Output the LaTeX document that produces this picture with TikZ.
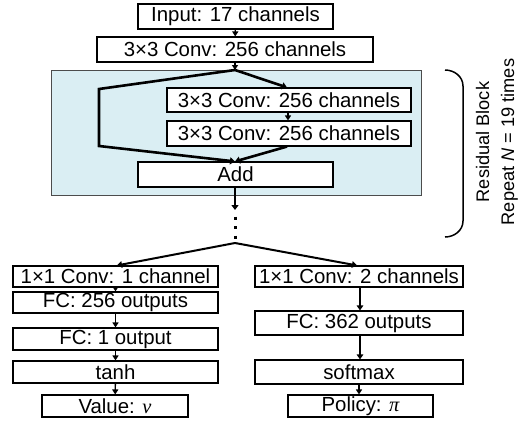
\documentclass[tikz,border=0pt]{standalone}
\usepackage{fontspec}
\setmainfont{Liberation Sans}
\newfontfamily\greekfont{Liberation Serif}
\usetikzlibrary{arrows.meta, positioning}
\definecolor{resblue}{RGB}{218,238,243}
\tikzset{
    layer/.style={draw, line width=1.1pt, fill=white, inner sep=0pt,
        font=\fontsize{20.4}{24}\selectfont},
    resbox/.style={draw=black!70, line width=1pt, fill=resblue, inner sep=0pt},
    flow/.style={-{Triangle[length=5pt,width=6pt]}, line width=1.4pt},
    bigflow/.style={-{Triangle[length=5pt,width=7pt]}, line width=2.6pt},
    sideflow/.style={-{Triangle[length=5pt,width=6.5pt]}, line width=2pt},
    sidenote/.style={rotate=90, align=center,
        font=\fontsize{18.2}{25}\selectfont}}
\begin{document}
\begin{tikzpicture}[x=1pt, y=-1pt]
\useasboundingbox (0,0) rectangle (531,421);

% residual block background
\node[resbox, minimum width=370pt, minimum height=125pt] (block) at (236,132.5) {};

\node[layer, minimum width=195pt, minimum height=25pt] (inp)  at (235.5,16.5) {Input: 17 channels};
\node[layer, minimum width=276pt, minimum height=25pt] (conv) at (235,49.5) {3×3 Conv: 256 channels};
\node[layer, minimum width=244pt, minimum height=24pt] (res1) at (289,100) {3×3 Conv: 256 channels};
\node[layer, minimum width=244pt, minimum height=25pt] (res2) at (289,133.5) {3×3 Conv: 256 channels};
\node[layer, minimum width=195pt, minimum height=25pt] (add)  at (235.5,174.5) {Add};

% value head
\node[layer, minimum width=205pt, minimum height=21pt] (vconv) at (115.5,276.5) {1×1 Conv: 1 channel};
\node[layer, minimum width=205pt, minimum height=21pt] (vfc1)  at (115.5,302.5) {FC: 256 outputs};
\node[layer, minimum width=205pt, minimum height=22pt] (vfc2)  at (115.5,339) {FC: 1 output};
\node[layer, minimum width=205pt, minimum height=22pt] (tanh)  at (115.5,372) {tanh};
\node[layer, minimum width=146pt, minimum height=22pt] (value) at (115,406) {Value: {\greekfont\itshape v}};

% policy head
\node[layer, minimum width=208pt, minimum height=21pt] (pconv)   at (359,276.5) {1×1 Conv: 2 channels};
\node[layer, minimum width=208pt, minimum height=24pt] (pfc)     at (359,323) {FC: 362 outputs};
\node[layer, minimum width=208pt, minimum height=24pt] (softmax) at (359,372) {softmax};
\node[layer, minimum width=145pt, minimum height=22pt] (policy)  at (360.5,406) {Policy: {\greekfont\itshape π}};

\coordinate (split) at (235,70);
\coordinate (byp1)  at (99,89);
\coordinate (byp2)  at (99,146);
\coordinate (down)  at (235,210);
\coordinate (fork)  at (235,243);

\path[flow]
    (inp)  edge (conv)
    (conv) edge (split)
    (res1.south -| 288,0) edge (res2.north -| 288,0);
\draw[bigflow] (split) -- (res1.north -| 287,0);
\draw[bigflow] (res2.south -| 287,0) -- (add.north -| 235,0);
\draw[bigflow, line join=miter] (split) -- (byp1) -- (byp2) -- (add.north -| 235,0);
\draw[bigflow] (add.south -| 235,0) -- (down);
\draw[line width=3pt, dash pattern=on 3pt off 6.5pt] (235,216.5) -- (235,240);
\draw[sideflow] (fork) -- (vconv.north -| 117,0);
\draw[sideflow] (fork) -- (pconv.north -| 357,0);

\path[flow]
    (vconv) edge (vfc1)
    (vfc1)  edge (vfc2)
    (vfc2)  edge (tanh)
    (tanh)  edge (value)
    (softmax) edge (policy.north -| softmax.south);
\draw[sideflow] (pconv.south -| 360,0) -- (pfc.north -| 360,0);
\draw[sideflow] (pfc.south -| 360,0) -- (softmax.north -| 360,0);

% bracket with label
\draw[line width=1.5pt] (445,70) to[out=0,in=90] (463,86) -- (463,221) to[out=-90,in=0] (445,237);
\node[sidenote] (repeat) at (497,142) {Residual Block\\Repeat \textit{N} = 19 times};
\end{tikzpicture}
\end{document}
